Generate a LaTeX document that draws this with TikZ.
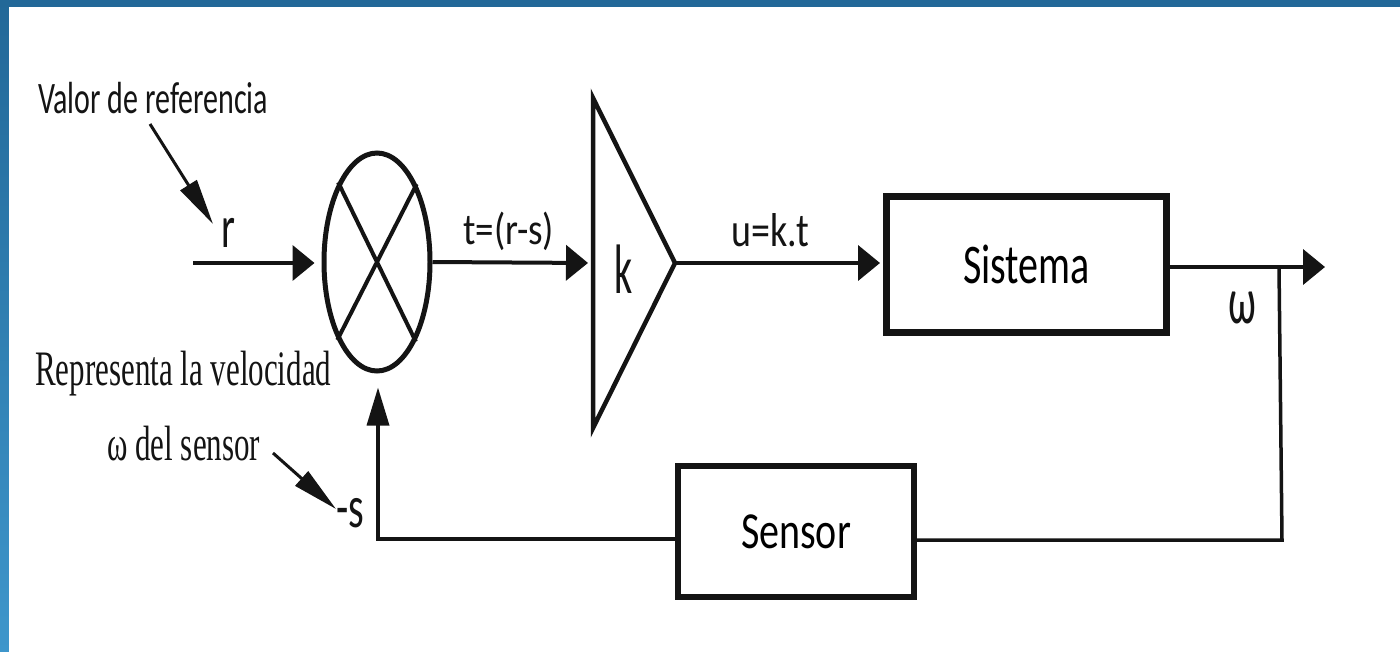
\documentclass[tikz,border=0pt]{standalone}
\usepackage{fontspec}
\setmainfont{Liberation Serif}
\newfontfamily\calfnt{Carlito}
\usetikzlibrary{arrows.meta,shapes.geometric,calc}
\newcommand{\ystr}[2]{\scalebox{1}[#1]{#2}}
\newcommand{\cfs}[1]{\calfnt\fontsize{#1}{#1}\selectfont}
\newcommand{\sfs}[1]{\fontsize{#1}{#1}\selectfont}
\definecolor{bgtop}{RGB}{34,104,152}
\definecolor{bgbot}{RGB}{62,150,203}
\definecolor{ink}{RGB}{20,20,20}
\begin{document}
\begin{tikzpicture}[x=1pt,y=-1pt,
  sig/.style={draw=ink,line width=4pt,-{Triangle[length=22pt,width=35pt]}},
  vsig/.style={draw=ink,line width=3.5pt,line join=miter,-{Triangle[length=38pt,width=22pt]}},
  ann/.style={draw=ink,line width=3pt,-{Triangle[length=46pt,width=19pt]}},
  wire/.style={draw=ink,line width=3.5pt,line join=miter},
  lbl/.style={inner sep=0pt,text=ink},
  block/.style={draw=ink,inner sep=0pt,fill=white}]
\useasboundingbox (0,0) rectangle (1400,651);
\shade[top color=bgtop,bottom color=bgbot] (0,0) rectangle (1400,651);
\fill[white] (9,7) rectangle (1405,656);

% summing junction
\node[draw=ink,ellipse,line width=5pt,minimum width=106pt,minimum height=218pt,inner sep=0pt] (sum) at (377,262) {};
\draw[ink,line width=4pt] (sum.63.6) -- (sum.243.6) (sum.116.4) -- (sum.296.4);

% gain triangle
\coordinate (gT) at (593,98);
\coordinate (gB) at (593,428);
\coordinate (gA) at (675,263);
\coordinate (gL) at (593,263);
\draw[ink,line width=4.5pt,line join=miter] (gT) -- (gA) -- (gB) -- cycle;
\node[lbl,anchor=base west,font=\cfs{40}] (k) at (614,293) {\ystr{1.75}{k}};

% blocks
\node[block,line width=7pt,minimum width=280pt,minimum height=136pt,font=\cfs{40}] (sys) at (1026.5,264) {\raisebox{-6pt}{\ystr{1.4}{Sistema}}};
\node[block,line width=6pt,minimum width=236pt,minimum height=131pt,font=\cfs{40}] (sen) at (796,531.5) {\raisebox{-9pt}{\ystr{1.3}{Sensor}}};

% coordinates
\coordinate (in) at (193,263);
\coordinate (out) at (1325,267);
\coordinate (br) at (1279,267);
\coordinate (fbR) at (1282,540);
\coordinate (fbL) at (378,539);

% signal connectors
\draw[sig,shorten >=7pt] (in) -- (in -| sum.west);
\draw[sig,shorten >=5pt] (sum.east) -- (gL);
\draw[sig,shorten >=3pt] (gA) -- (gA -| sys.west);
\draw[sig] (sys.east |- out) -- (out);
\draw[wire] (br) -- (fbR) -- (fbR -| sen.east);
\draw[vsig,shorten >=14pt] (sen.west |- fbL) -- (fbL) -- (fbL |- sum.south);

% signal labels
\node[lbl,anchor=base,font=\cfs{40}] (r) at (228,247) {\ystr{1.5}{r}};
\node[lbl,anchor=base west,font=\cfs{37}] (t) at (463,244) {\ystr{1.2}{t=(r-s)}};
\node[lbl,anchor=base west,font=\cfs{38}] (u) at (731,246) {\ystr{1.25}{u=k.t}};
\node[lbl,anchor=base,font=\cfs{40}] (w) at (1242,323) {\ystr{1.65}{ω}};
\node[lbl,anchor=base west,font=\cfs{40}] (s) at (336,527) {\ystr{1.5}{-s}};

% annotations
\node[lbl,anchor=base west,font=\cfs{30}] (valor) at (38,113) {\ystr{1.5}{Valor de referencia}};
\node[lbl,anchor=base west,font=\sfs{31}] (rep) at (35,385) {\ystr{1.6}{Representa la velocidad}};
\node[lbl,anchor=base west,font=\sfs{31}] (wdel) at (107,460) {\ystr{1.6}{ω del sensor}};
\coordinate (a1s) at (150,124);
\coordinate (a1e) at (213,224);
\coordinate (a2s) at (273,453);
\coordinate (a2e) at (336,509);
\draw[ann] (a1s) -- (a1e);
\draw[ann] (a2s) -- (a2e);
\end{tikzpicture}
\end{document}
